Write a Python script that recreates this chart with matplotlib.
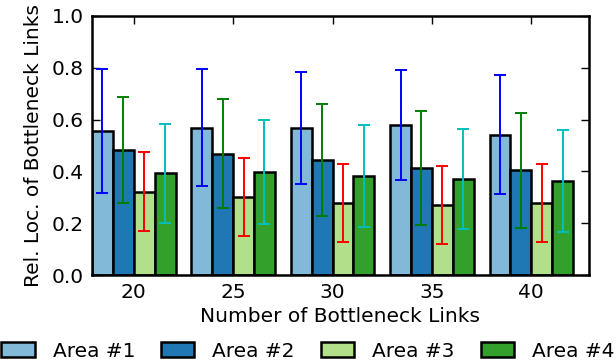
import numpy as np
import matplotlib
matplotlib.use('Agg')
import matplotlib.pyplot as plt

links = [20, 25, 30, 35, 40]
labels = ['Area #1', 'Area #2', 'Area #3', 'Area #4']

area1 = [0.556, 0.569, 0.568, 0.580, 0.542]
area2 = [0.484, 0.468, 0.444, 0.414, 0.405]
area3 = [0.322, 0.301, 0.278, 0.270, 0.277]
area4 = [0.392, 0.398, 0.383, 0.371, 0.363]

err1 = [0.239, 0.227, 0.216, 0.212, 0.230]
err2 = [0.205, 0.210, 0.215, 0.221, 0.222]
err3 = [0.153, 0.151, 0.152, 0.149, 0.150]
err4 = [0.191, 0.200, 0.197, 0.194, 0.196]

bar_colors = ['#82b8d8', '#1f78b4', '#b2df8a', '#33a02c']
err_colors = ['b', 'g', 'r', 'c']

fig = plt.figure(figsize=(6.16, 3.63), dpi=100)
ax = fig.add_axes([0.1494, 0.2424, 0.8066, 0.7136])

x = np.array(links, dtype=float)
w = 1.05
series = [area1, area2, area3, area4]
errs = [err1, err2, err3, err4]
for i, (vals, e) in enumerate(zip(series, errs)):
    pos = x + (i - 1.5) * w
    ax.bar(pos, vals, w, color=bar_colors[i], edgecolor='black',
           linewidth=1.8, label=labels[i], zorder=2)
    ax.errorbar(pos, vals, yerr=e, fmt='none', ecolor=err_colors[i],
                elinewidth=1.4, capsize=4.5, capthick=1.4, zorder=3)

ax.set_xlim(17.9, 42.9)
ax.set_ylim(0, 1.0)
ax.set_xticks(links)
ax.set_yticks([0.0, 0.2, 0.4, 0.6, 0.8, 1.0])
ax.set_yticklabels(['0.0', '0.2', '0.4', '0.6', '0.8', '1.0'])
ax.tick_params(direction='in', length=6, width=1, top=True, right=True,
               labelsize=14.5, pad=6)
for s in ax.spines.values():
    s.set_linewidth(1.8)
ax.set_xlabel('Number of Bottleneck Links', fontsize=14.5, labelpad=3)
ax.set_ylabel('Rel. Loc. of Bottleneck Links', fontsize=14.5, labelpad=6)

fig.legend(loc='center', ncol=4, frameon=False, fontsize=14.5,
           bbox_to_anchor=(0.5, 0.033), handlelength=1.64, handleheight=0.7,
           columnspacing=1.3, handletextpad=0.9, borderpad=0, borderaxespad=0)

fig.savefig('out.png', dpi=100)
